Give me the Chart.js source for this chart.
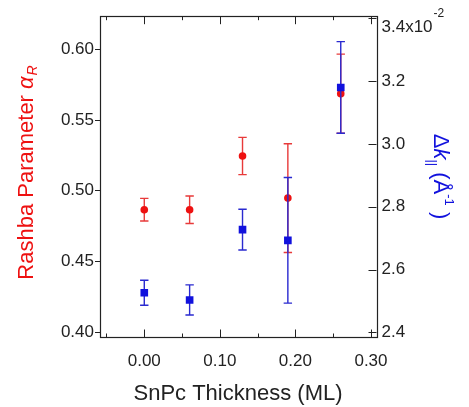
<!DOCTYPE html>
<html>
<head>
<meta charset="utf-8">
<script src="https://cdn.jsdelivr.net/npm/chart.js@4/dist/chart.umd.min.js"></script>
<style>
html,body{margin:0;padding:0;background:#fff;}
canvas{display:block;}
</style>
</head>
<body>
<canvas id="c" width="469" height="407"></canvas>
<script>
// ---- data ----
const thickness = [0.00, 0.06, 0.13, 0.19, 0.26];
const rashba = [0.4864, 0.4864, 0.5244, 0.4946, 0.5685];
const rashbaErr = [0.0080, 0.0097, 0.0132, 0.0385, 0.0280];
const deltaK = [2.526, 2.503, 2.727, 2.693, 3.180];      // x10^-2
const deltaKErr = [0.040, 0.048, 0.065, 0.200, 0.146];

const xTicks = [0.00, 0.10, 0.20, 0.30];
const xMinorTicks = [-0.05, 0.05, 0.15, 0.25];
const yTicks = [0.40, 0.45, 0.50, 0.55, 0.60];
const y1Ticks = [2.4, 2.6, 2.8, 3.0, 3.2, 3.4];

const xRange = [-0.0586, 0.3073];
const yRange = [0.396, 0.6233];
const y1Range = [2.3835, 3.407];

const RED = '#ee1111', RED_ERR = '#e83a3a', BLUE = '#1111dd', BLUE_ERR = '#2a2ad0';
const FONT = '"Liberation Sans", Arial, sans-serif';
const INK = '#222';

const deco = {
  id: 'deco',
  beforeDatasetDraw(chart, args) {
    const ctx = chart.ctx;
    const xs = chart.scales.x;
    const isRed = args.index === 0;
    const ys = isRed ? chart.scales.y : chart.scales.y1;
    const vals = isRed ? rashba : deltaK;
    const errs = isRed ? rashbaErr : deltaKErr;
    ctx.save();
    ctx.strokeStyle = isRed ? RED_ERR : BLUE_ERR;
    ctx.lineWidth = 1.4;
    const cap = 4.2;
    thickness.forEach((t, i) => {
      const x = xs.getPixelForValue(t);
      const yt = ys.getPixelForValue(vals[i] + errs[i]);
      const yb = ys.getPixelForValue(vals[i] - errs[i]);
      ctx.beginPath();
      ctx.moveTo(x, yt); ctx.lineTo(x, yb);
      ctx.moveTo(x - cap, yt); ctx.lineTo(x + cap, yt);
      ctx.moveTo(x - cap, yb); ctx.lineTo(x + cap, yb);
      ctx.stroke();
    });
    ctx.restore();
  },
  afterDraw(chart) {
    const ctx = chart.ctx;
    const a = chart.chartArea;
    const xs = chart.scales.x, ys = chart.scales.y, y1 = chart.scales.y1;
    ctx.save();
    ctx.strokeStyle = INK;
    ctx.lineWidth = 1.2;
    ctx.strokeRect(Math.round(a.left) + 0.5, Math.round(a.top) + 0.5,
                   Math.round(a.right - a.left), Math.round(a.bottom - a.top));
    ctx.lineWidth = 1;
    ctx.beginPath();
    xTicks.forEach(v => {
      const x = Math.round(xs.getPixelForValue(v)) + 0.5;
      ctx.moveTo(x, a.bottom); ctx.lineTo(x, a.bottom - 8);
      ctx.moveTo(x, a.top); ctx.lineTo(x, a.top + 8);
    });
    xMinorTicks.forEach(v => {
      const x = Math.round(xs.getPixelForValue(v)) + 0.5;
      ctx.moveTo(x, a.bottom); ctx.lineTo(x, a.bottom - 4);
      ctx.moveTo(x, a.top); ctx.lineTo(x, a.top + 4);
    });
    yTicks.forEach(v => {
      const y = Math.round(ys.getPixelForValue(v)) + 0.5;
      ctx.moveTo(a.left, y); ctx.lineTo(a.left - 5, y);
    });
    y1Ticks.forEach(v => {
      const y = Math.round(y1.getPixelForValue(v)) + 0.5;
      ctx.moveTo(a.right, y); ctx.lineTo(a.right - 8, y);
    });
    ctx.stroke();

    // top right-axis label, kept inside the axis span, with its exponent
    const topTick = y1.getPixelForValue(y1Ticks[y1Ticks.length - 1]);
    ctx.fillStyle = INK;
    ctx.font = '17px ' + FONT;
    ctx.textAlign = 'left';
    ctx.textBaseline = 'alphabetic';
    const lab = '3.4x10';
    const lx = a.right + 5;
    ctx.fillText(lab, lx, topTick + 14);
    const w = ctx.measureText(lab).width;
    ctx.font = '12px ' + FONT;
    ctx.fillText('-2', lx + w + 1, topTick - 1);

    // x title
    ctx.font = '22px ' + FONT;
    ctx.fillStyle = INK;
    ctx.textAlign = 'center';
    ctx.fillText('SnPc Thickness (ML)', 238, 400);

    // left title (rotated -90)
    ctx.save();
    ctx.translate(33, 172.5);
    ctx.rotate(-Math.PI / 2);
    ctx.fillStyle = RED;
    ctx.textAlign = 'left';
    const p1 = 'Rashba Parameter ';
    ctx.font = '22px ' + FONT;
    const w1 = ctx.measureText(p1).width;
    ctx.font = 'italic 22px ' + FONT;
    const w2 = ctx.measureText('α').width;
    ctx.font = 'italic 14px ' + FONT;
    const w3 = ctx.measureText('R').width;
    let sx = -(w1 + w2 + w3 + 1) / 2;
    ctx.font = '22px ' + FONT;
    ctx.fillText(p1, sx, 0); sx += w1;
    ctx.font = 'italic 22px ' + FONT;
    ctx.fillText('α', sx, 0); sx += w2 + 1;
    ctx.font = 'italic 14px ' + FONT;
    ctx.fillText('R', sx, 4);
    ctx.restore();

    // right title (rotated +90)
    ctx.save();
    ctx.translate(434, 176.5);
    ctx.rotate(Math.PI / 2);
    ctx.fillStyle = BLUE;
    ctx.textAlign = 'left';
    const parts = [
      {t: 'Δ', f: '22px ', dy: 0},
      {t: 'k', f: 'italic 22px ', dy: 0},
      {t: '||', f: '13px ', dy: 6},
      {t: ' (Å', f: '22px ', dy: 0},
      {t: '-1', f: '13px ', dy: -11},
      {t: ' )', f: '22px ', dy: 0}
    ];
    let tot = 0;
    parts.forEach(p => { ctx.font = p.f + FONT; p.w = ctx.measureText(p.t).width; tot += p.w; });
    let rx = -tot / 2;
    parts.forEach(p => { ctx.font = p.f + FONT; ctx.fillText(p.t, rx, p.dy); rx += p.w; });
    ctx.restore();

    ctx.restore();
  }
};

const setTicks = arr => s => { s.ticks = arr.map(v => ({value: v})); };

new Chart(document.getElementById('c'), {
  type: 'scatter',
  data: {
    datasets: [
      {
        label: 'Rashba',
        data: thickness.map((t, i) => ({x: t, y: rashba[i]})),
        yAxisID: 'y',
        pointStyle: 'circle',
        pointRadius: 3.8,
        backgroundColor: RED,
        borderColor: RED,
        borderWidth: 0,
        order: 2
      },
      {
        label: 'dk',
        data: thickness.map((t, i) => ({x: t, y: deltaK[i]})),
        yAxisID: 'y1',
        pointStyle: 'rect',
        pointRadius: 5.4,
        backgroundColor: BLUE,
        borderColor: BLUE,
        borderWidth: 0,
        order: 1
      }
    ]
  },
  options: {
    responsive: false,
    animation: false,
    layout: {padding: {top: 15.5, left: 0, right: 0, bottom: 0}},
    plugins: {legend: {display: false}, tooltip: {enabled: false}},
    scales: {
      x: {
        type: 'linear', position: 'bottom',
        min: xRange[0], max: xRange[1],
        afterBuildTicks: setTicks(xTicks),
        afterFit: s => { s.height = 69.5; },
        grid: {display: false, drawTicks: false},
        border: {display: false},
        ticks: {callback: v => v.toFixed(2), font: {size: 17, family: FONT}, color: INK, padding: 14, autoSkip: false, maxRotation: 0}
      },
      y: {
        type: 'linear', position: 'left',
        min: yRange[0], max: yRange[1],
        afterBuildTicks: setTicks(yTicks),
        afterFit: s => { s.width = 100; },
        grid: {display: false, drawTicks: false},
        border: {display: false},
        ticks: {callback: v => v.toFixed(2), font: {size: 17, family: FONT}, color: INK, padding: 6, autoSkip: false}
      },
      y1: {
        type: 'linear', position: 'right',
        min: y1Range[0], max: y1Range[1],
        afterBuildTicks: setTicks(y1Ticks),
        afterFit: s => { s.width = 92.5; },
        grid: {display: false, drawTicks: false},
        border: {display: false},
        ticks: {callback: v => (Math.abs(v - 3.4) < 1e-6 ? '' : v.toFixed(1)), font: {size: 17, family: FONT}, color: INK, padding: 5, autoSkip: false}
      }
    }
  },
  plugins: [deco]
});
</script>
</body>
</html>
